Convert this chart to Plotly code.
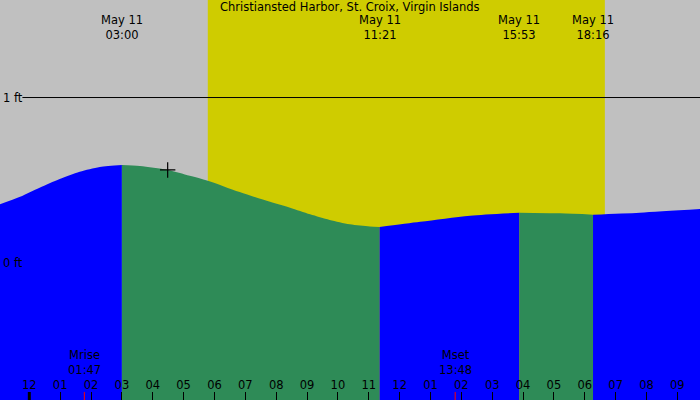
import plotly.graph_objects as go

# tide curve (time, height in ft)
curve_times = [
    "2024-05-10 23:03", "2024-05-10 23:42", "2024-05-11 00:20", "2024-05-11 00:59",
    "2024-05-11 01:38", "2024-05-11 02:17", "2024-05-11 03:00", "2024-05-11 03:35",
    "2024-05-11 04:29", "2024-05-11 05:12", "2024-05-11 05:47", "2024-05-11 06:49",
    "2024-05-11 07:48", "2024-05-11 08:27", "2024-05-11 09:06", "2024-05-11 09:44",
    "2024-05-11 10:23", "2024-05-11 11:02", "2024-05-11 11:21", "2024-05-11 12:40",
    "2024-05-11 14:17", "2024-05-11 15:53", "2024-05-11 17:12", "2024-05-11 18:16",
    "2024-05-11 19:47", "2024-05-11 21:44",
]
curve_heights = [
    0.353, 0.398, 0.453, 0.506,
    0.550, 0.579, 0.591, 0.585,
    0.561, 0.526, 0.496, 0.427,
    0.368, 0.332, 0.292, 0.258,
    0.232, 0.219, 0.215, 0.247,
    0.284, 0.302, 0.298, 0.290,
    0.302, 0.324,
]

# high / low tide events
tide_times = ["2024-05-11 03:00", "2024-05-11 11:21", "2024-05-11 15:53", "2024-05-11 18:16"]
tide_dates = ["May 11", "May 11", "May 11", "May 11"]
tide_clock = ["03:00", "11:21", "15:53", "18:16"]

sunrise = "2024-05-11 05:47"
sunset = "2024-05-11 18:39"

moon_times = ["2024-05-11 01:47", "2024-05-11 13:48"]
moon_events = ["Mrise", "Mset"]
moon_clock = ["01:47", "13:48"]

now_time = "2024-05-11 04:29"
now_height = 0.561

midnight = "2024-05-11 00:00"
x_range = ["2024-05-10 23:03", "2024-05-11 21:44"]
y_range = [-0.833, 1.591]

title = "Christiansted Harbor, St. Croix, Virgin Islands"

NIGHT = "#C0C0C0"
DAY = "#CFCC00"
RISING = "#0000FF"
FALLING = "#2E8B57"
FONT = dict(family="DejaVu Sans", size=11.5, color="black")

fig = go.Figure()

# split the curve into segments at each tide event, alternate colours
cuts = [0] + [curve_times.index(t) for t in tide_times] + [len(curve_times) - 1]
for k in range(len(cuts) - 1):
    xs = curve_times[cuts[k]:cuts[k + 1] + 1]
    ys = curve_heights[cuts[k]:cuts[k + 1] + 1]
    color = RISING if k % 2 == 0 else FALLING
    fig.add_trace(go.Scatter(x=xs, y=[y_range[0]] * len(xs), mode="lines",
                             line=dict(width=0), hoverinfo="skip", showlegend=False))
    fig.add_trace(go.Scatter(x=xs, y=ys, mode="lines",
                             line=dict(width=0, shape="spline", smoothing=0.8, color=color),
                             fill="tonexty", fillcolor=color, showlegend=False))

fig.add_trace(go.Scatter(x=[now_time], y=[now_height], mode="markers",
                         marker=dict(symbol="cross-thin", size=11, line=dict(width=1.2, color="black")),
                         showlegend=False))

shapes = [
    dict(type="rect", xref="x", yref="paper", x0=sunrise, x1=sunset, y0=0, y1=1,
         fillcolor=DAY, line=dict(width=0), layer="below"),
    dict(type="line", xref="paper", yref="y", x0=0.032, x1=1, y0=1, y1=1,
         line=dict(color="black", width=1), layer="below"),
    dict(type="line", xref="x", yref="paper", x0=midnight, x1=midnight, y0=0, y1=0.02,
         line=dict(color="black", width=3)),
]
for t in moon_times:
    shapes.append(dict(type="line", xref="x", yref="paper", x0=t, x1=t, y0=0, y1=0.02,
                       line=dict(color="red", width=1)))

annotations = [dict(text=title, x=0.5, y=1, xref="paper", yref="paper", xanchor="center",
                    yanchor="middle", yshift=-7, showarrow=False, font=FONT)]
for t, d, c in zip(tide_times, tide_dates, tide_clock):
    annotations.append(dict(text=d + "<br>" + c, x=t, y=1, xref="x", yref="paper",
                            xanchor="center", yanchor="middle", yshift=-27, borderpad=0,
                            showarrow=False, font=FONT))
for t, e, c in zip(moon_times, moon_events, moon_clock):
    annotations.append(dict(text=e + "<br>" + c, x=t, y=0, xref="x", yref="paper",
                            xanchor="center", yanchor="middle", yshift=38, borderpad=0,
                            showarrow=False, font=FONT))

fig.update_layout(
    width=700, height=400,
    margin=dict(l=0, r=0, t=0, b=0),
    paper_bgcolor=NIGHT, plot_bgcolor=NIGHT,
    font=FONT,
    shapes=shapes,
    annotations=annotations,
    xaxis=dict(type="date", range=x_range, tickformat="%I", dtick=3600000, tick0=midnight,
               ticks="inside", ticklen=8, tickcolor="black", ticklabelposition="inside",
               ticklabeloverflow="allow", showgrid=False, zeroline=False, showline=False,
               tickfont=FONT),
    yaxis=dict(range=y_range, tickvals=[0, 1], ticktext=["0 ft", "1 ft"], ticks="",
               ticklabelposition="inside", showgrid=False, zeroline=False, showline=False,
               tickfont=FONT),
)

fig.write_html("out.html", config={"displayModeBar": False},
               post_script="document.body.style.margin = '0';")
